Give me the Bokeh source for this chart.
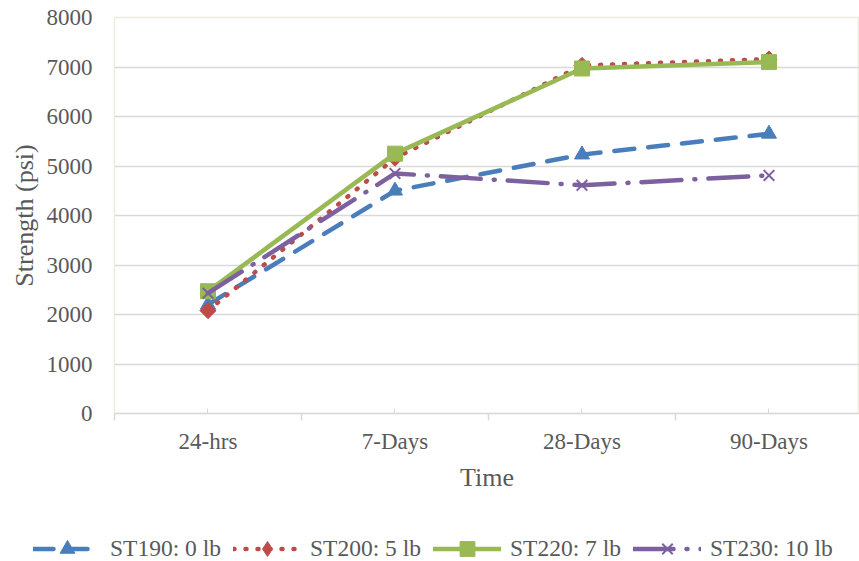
from bokeh.plotting import figure
from bokeh.layouts import column, row
from bokeh.models import Range1d, FixedTicker, Legend, LegendItem
from bokeh.embed import file_html
from bokeh.resources import INLINE
import math

# Curing ages and measured compressive strength (psi) per mix
ages = ["24-hrs", "7-Days", "28-Days", "90-Days"]
st190 = [2200, 4500, 5230, 5650]
st200 = [2080, 5160, 7030, 7160]
st220 = [2470, 5250, 6970, 7100]
st230 = [2430, 4850, 4610, 4810]
series_names = ["ST190: 0 lb", "ST200: 5 lb", "ST220: 7 lb", "ST230: 10 lb"]
y_ticks = [0, 1000, 2000, 3000, 4000, 5000, 6000, 7000, 8000]

xs = [i + 0.5 for i in range(len(ages))]
boundaries = [float(i) for i in range(len(ages) + 1)]

FONT = "Liberation Serif"
GREY = "#595959"

styles = [
    dict(data=st190, color="#4A7EBB", dash="20 14", marker="triangle", size=15, angle=0.0, key="triangle"),
    dict(data=st200, color="#BE4B48", dash="1 11", marker="square", size=11.5, angle=math.pi / 4, key="diamond"),
    dict(data=st220, color="#98B954", dash="solid", marker="square", size=15, angle=0.0, key="square"),
    dict(data=st230, color="#7D60A0", dash="40 13 1 13", marker="x", size=15, angle=0.0, key="x"),
]


def draw_series(fig, st, marker):
    ln = fig.line(xs, st["data"], line_color=st["color"], line_width=4.5,
                  line_dash=st["dash"], line_cap="round", line_join="round")
    if marker == "x":
        mk = fig.scatter(xs, st["data"], marker="x", size=st["size"],
                         line_color=st["color"], line_width=2)
    else:
        mk = fig.scatter(xs, st["data"], marker=marker, size=st["size"],
                         angle=st["angle"], fill_color=st["color"],
                         line_color=st["color"], line_width=1)
    return ln, mk


# main chart
p = figure(width=859, height=501, output_backend="svg", toolbar_location=None,
           x_range=Range1d(0, 3.984), y_range=Range1d(0, 8000),
           min_border_left=114, min_border_right=0, min_border_top=17,
           min_border_bottom=88)
p.background_fill_color = "white"
p.border_fill_color = "white"
p.outline_line_color = "#EEEBE0"
p.outline_line_width = 1.5

p.xaxis.ticker = FixedTicker(ticks=xs, minor_ticks=boundaries)
p.xaxis.major_label_overrides = {x: a for x, a in zip(xs, ages)}
p.xaxis.axis_line_color = "#D9D9D9"
p.xaxis.axis_line_width = 1.5
p.xaxis.major_tick_line_color = "#D9D9D9"
p.xaxis.major_tick_in = 5
p.xaxis.major_tick_out = 0
p.xaxis.minor_tick_line_color = "#D9D9D9"
p.xaxis.minor_tick_line_width = 1.5
p.xaxis.minor_tick_in = 0
p.xaxis.minor_tick_out = 7
p.xaxis.major_label_standoff = 8
p.xaxis.axis_label = "Time"
p.xaxis.axis_label_standoff = 6

p.yaxis.ticker = FixedTicker(ticks=y_ticks)
p.yaxis.axis_line_color = None
p.yaxis.major_tick_line_color = None
p.yaxis.minor_tick_line_color = None
p.yaxis.major_tick_out = 0
p.yaxis.major_label_standoff = 22
p.yaxis.axis_label = "Strength (psi)"
p.yaxis.axis_label_standoff = 5

for ax in (p.xaxis, p.yaxis):
    ax.major_label_text_font = FONT
    ax.major_label_text_font_size = "23px"
    ax.major_label_text_color = GREY
    ax.axis_label_text_font = FONT
    ax.axis_label_text_font_size = "26px"
    ax.axis_label_text_font_style = "normal"
    ax.axis_label_text_color = GREY

p.xgrid.grid_line_color = None
p.ygrid.grid_line_color = "#D9D9D9"
p.ygrid.grid_line_width = 1.3

for st in styles:
    draw_series(p, st, st["marker"])

# legend strip underneath the chart (series drawn off-view, only their keys show)
lp = figure(width=859, height=60, output_backend="svg", toolbar_location=None,
            x_range=Range1d(0, 1), y_range=Range1d(0, 1),
            min_border_left=0, min_border_right=0, min_border_top=0,
            min_border_bottom=0)
lp.axis.visible = False
lp.grid.visible = False
lp.outline_line_color = None
lp.border_fill_color = "white"
lp.background_fill_color = "white"

items = []
for name, st in zip(series_names, styles):
    ln, mk = draw_series(lp, st, st["key"])
    items.append(LegendItem(label=name, renderers=[ln, mk]))

legend = Legend(items=items, orientation="horizontal", location=(33, -6),
                padding=0, margin=0, spacing=12, glyph_width=68, glyph_height=37,
                label_standoff=9, label_text_font=FONT,
                label_text_font_size="23.5px", label_text_color=GREY,
                border_line_color=None, background_fill_alpha=0)
lp.add_layout(legend, "center")

layout = column(p, row(lp, spacing=0), spacing=0)
open("out.html", "w").write(file_html(layout, INLINE))
